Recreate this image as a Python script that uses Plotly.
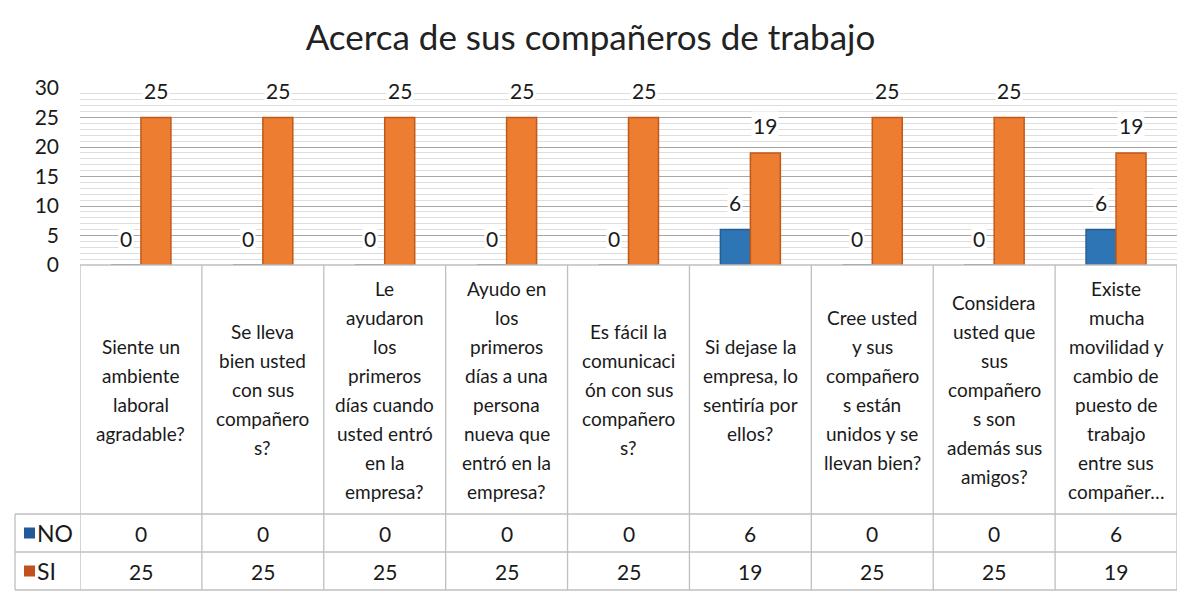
import plotly.graph_objects as go

title_text = "Acerca de sus compañeros de trabajo"
categories = [
    "Siente un<br>ambiente<br>laboral<br>agradable?",
    "Se lleva<br>bien usted<br>con sus<br>compañero<br>s?",
    "Le<br>ayudaron<br>los<br>primeros<br>días cuando<br>usted entró<br>en la<br>empresa?",
    "Ayudo en<br>los<br>primeros<br>días a una<br>persona<br>nueva que<br>entró en la<br>empresa?",
    "Es fácil la<br>comunicaci<br>ón con sus<br>compañero<br>s?",
    "Si dejase la<br>empresa, lo<br>sentiría por<br>ellos?",
    "Cree usted<br>y sus<br>compañero<br>s están<br>unidos y se<br>llevan bien?",
    "Considera<br>usted que<br>sus<br>compañero<br>s son<br>además sus<br>amigos?",
    "Existe<br>mucha<br>movilidad y<br>cambio de<br>puesto de<br>trabajo<br>entre sus<br>compañer…",
]
series_names = ["NO", "SI"]
no_values = [0, 0, 0, 0, 0, 6, 0, 0, 6]
si_values = [25, 25, 25, 25, 25, 19, 25, 25, 19]
y_ticks = [0, 5, 10, 15, 20, 25, 30]

FONT = "Lato, sans-serif"
NO_COLOR = "#2E75B6"
NO_LINE = "#255E91"
SI_COLOR = "#ED7D31"
SI_LINE = "#C05A1C"
NO_KEY = "#22599A"
SI_KEY = "#C2501E"
GRID = "#A6A6A6"
TABLE_LINE = "#BFBFBF"
TXT = "#1a1a1a"

W, H = 1181, 596
ML, MR, MT, MB = 80, 4, 88, 5
PH = H - MT - MB
PW = W - ML - MR
LINE_GAP = 29


def py(p):
    return (H - MB - p) / PH


def px(p):
    return (p - ML) / PW


axis_bottom = py(265)
header_bottom = py(514)
row_mid = py(552)
table_bottom = py(590)
legend_left = px(15)

n = len(categories)
xs = list(range(n))

fig = go.Figure()
fig.add_trace(go.Bar(x=xs, y=no_values, name=series_names[0],
                     marker=dict(color=NO_COLOR, line=dict(color=NO_LINE, width=1.5))))
fig.add_trace(go.Bar(x=xs, y=si_values, name=series_names[1],
                     marker=dict(color=SI_COLOR, line=dict(color=SI_LINE, width=1.5))))

annotations = []
# bar value labels
for vals, sh in ((no_values, -15), (si_values, 15)):
    for i, v in enumerate(vals):
        annotations.append(dict(x=i, y=v, xref="x", yref="y", text=str(v), showarrow=False,
                                xshift=sh, yshift=27, yanchor="middle", bgcolor="white",
                                font=dict(family=FONT, size=21, color=TXT)))

# data table text
row_centers = [(header_bottom + row_mid) / 2, (row_mid + table_bottom) / 2]
header_center = (axis_bottom + header_bottom) / 2
for i, c in enumerate(categories):
    lines = c.split("<br>")
    mid = (len(lines) - 1) / 2
    for j, ln in enumerate(lines):
        annotations.append(dict(x=i, y=header_center, xref="x", yref="paper",
                                text=ln, showarrow=False, yanchor="middle", align="center",
                                yshift=(mid - j) * LINE_GAP,
                                font=dict(family=FONT, size=19, color=TXT)))
    for r, vals in enumerate((no_values, si_values)):
        annotations.append(dict(x=i, y=row_centers[r], xref="x", yref="paper",
                                text=str(vals[i]), showarrow=False, yanchor="middle",
                                font=dict(family=FONT, size=21, color=TXT)))

shapes = []
# legend keys
for r, (name, col) in enumerate(zip(series_names, (NO_KEY, SI_KEY))):
    yc = row_centers[r]
    shapes.append(dict(type="rect", xref="paper", yref="paper",
                       x0=px(24), x1=px(35), y0=yc - 5.5 / PH, y1=yc + 5.5 / PH,
                       fillcolor=col, line=dict(width=0)))
    annotations.append(dict(x=px(35), y=yc, xref="paper", yref="paper", text=name,
                            showarrow=False, xanchor="left", yanchor="middle",
                            font=dict(family=FONT, size=23, color=TXT)))

# table grid lines
line = dict(color=TABLE_LINE, width=1.3)
for k in range(n + 1):
    shapes.append(dict(type="line", xref="x", yref="paper", x0=k - 0.5, x1=k - 0.5,
                       y0=table_bottom, y1=axis_bottom, line=line))
shapes.append(dict(type="line", xref="paper", yref="paper", x0=legend_left, x1=legend_left,
                   y0=table_bottom, y1=header_bottom, line=line))
for yy in (header_bottom, row_mid, table_bottom):
    shapes.append(dict(type="line", xref="paper", yref="paper", x0=legend_left, x1=1,
                       y0=yy, y1=yy, line=line))
shapes.append(dict(type="line", xref="paper", yref="paper", x0=0, x1=1,
                   y0=axis_bottom, y1=axis_bottom, line=line))

fig.update_layout(
    template="none",
    width=W, height=H, autosize=False,
    margin=dict(l=ML, r=MR, t=MT, b=MB, autoexpand=False),
    paper_bgcolor="white", plot_bgcolor="white",
    barmode="group", bargap=0.508, bargroupgap=0,
    showlegend=False,
    title=dict(text=title_text, x=0.5, xref="container", xanchor="center",
               y=1 - 38 / H, yref="container", yanchor="middle",
               font=dict(family=FONT, size=35, color="#222222")),
    xaxis=dict(range=[-0.5, n - 0.5], showticklabels=False, showgrid=False,
               zeroline=False, showline=False, ticks="", automargin=False),
    yaxis=dict(domain=[axis_bottom, 1], range=[0, 30], tickvals=y_ticks,
               showgrid=True, gridcolor=GRID, gridwidth=1, zeroline=False,
               showline=False, ticks="", ticklabelstandoff=20, automargin=False,
               tickfont=dict(family=FONT, size=21, color=TXT),
               minor=dict(dtick=1, showgrid=True, gridcolor="#DEDEDE", gridwidth=1)),
    annotations=annotations, shapes=shapes,
)

fig.write_html("out.html", config={"displayModeBar": False, "responsive": False},
               post_script="document.body.style.margin='0';document.body.style.padding='0';")
